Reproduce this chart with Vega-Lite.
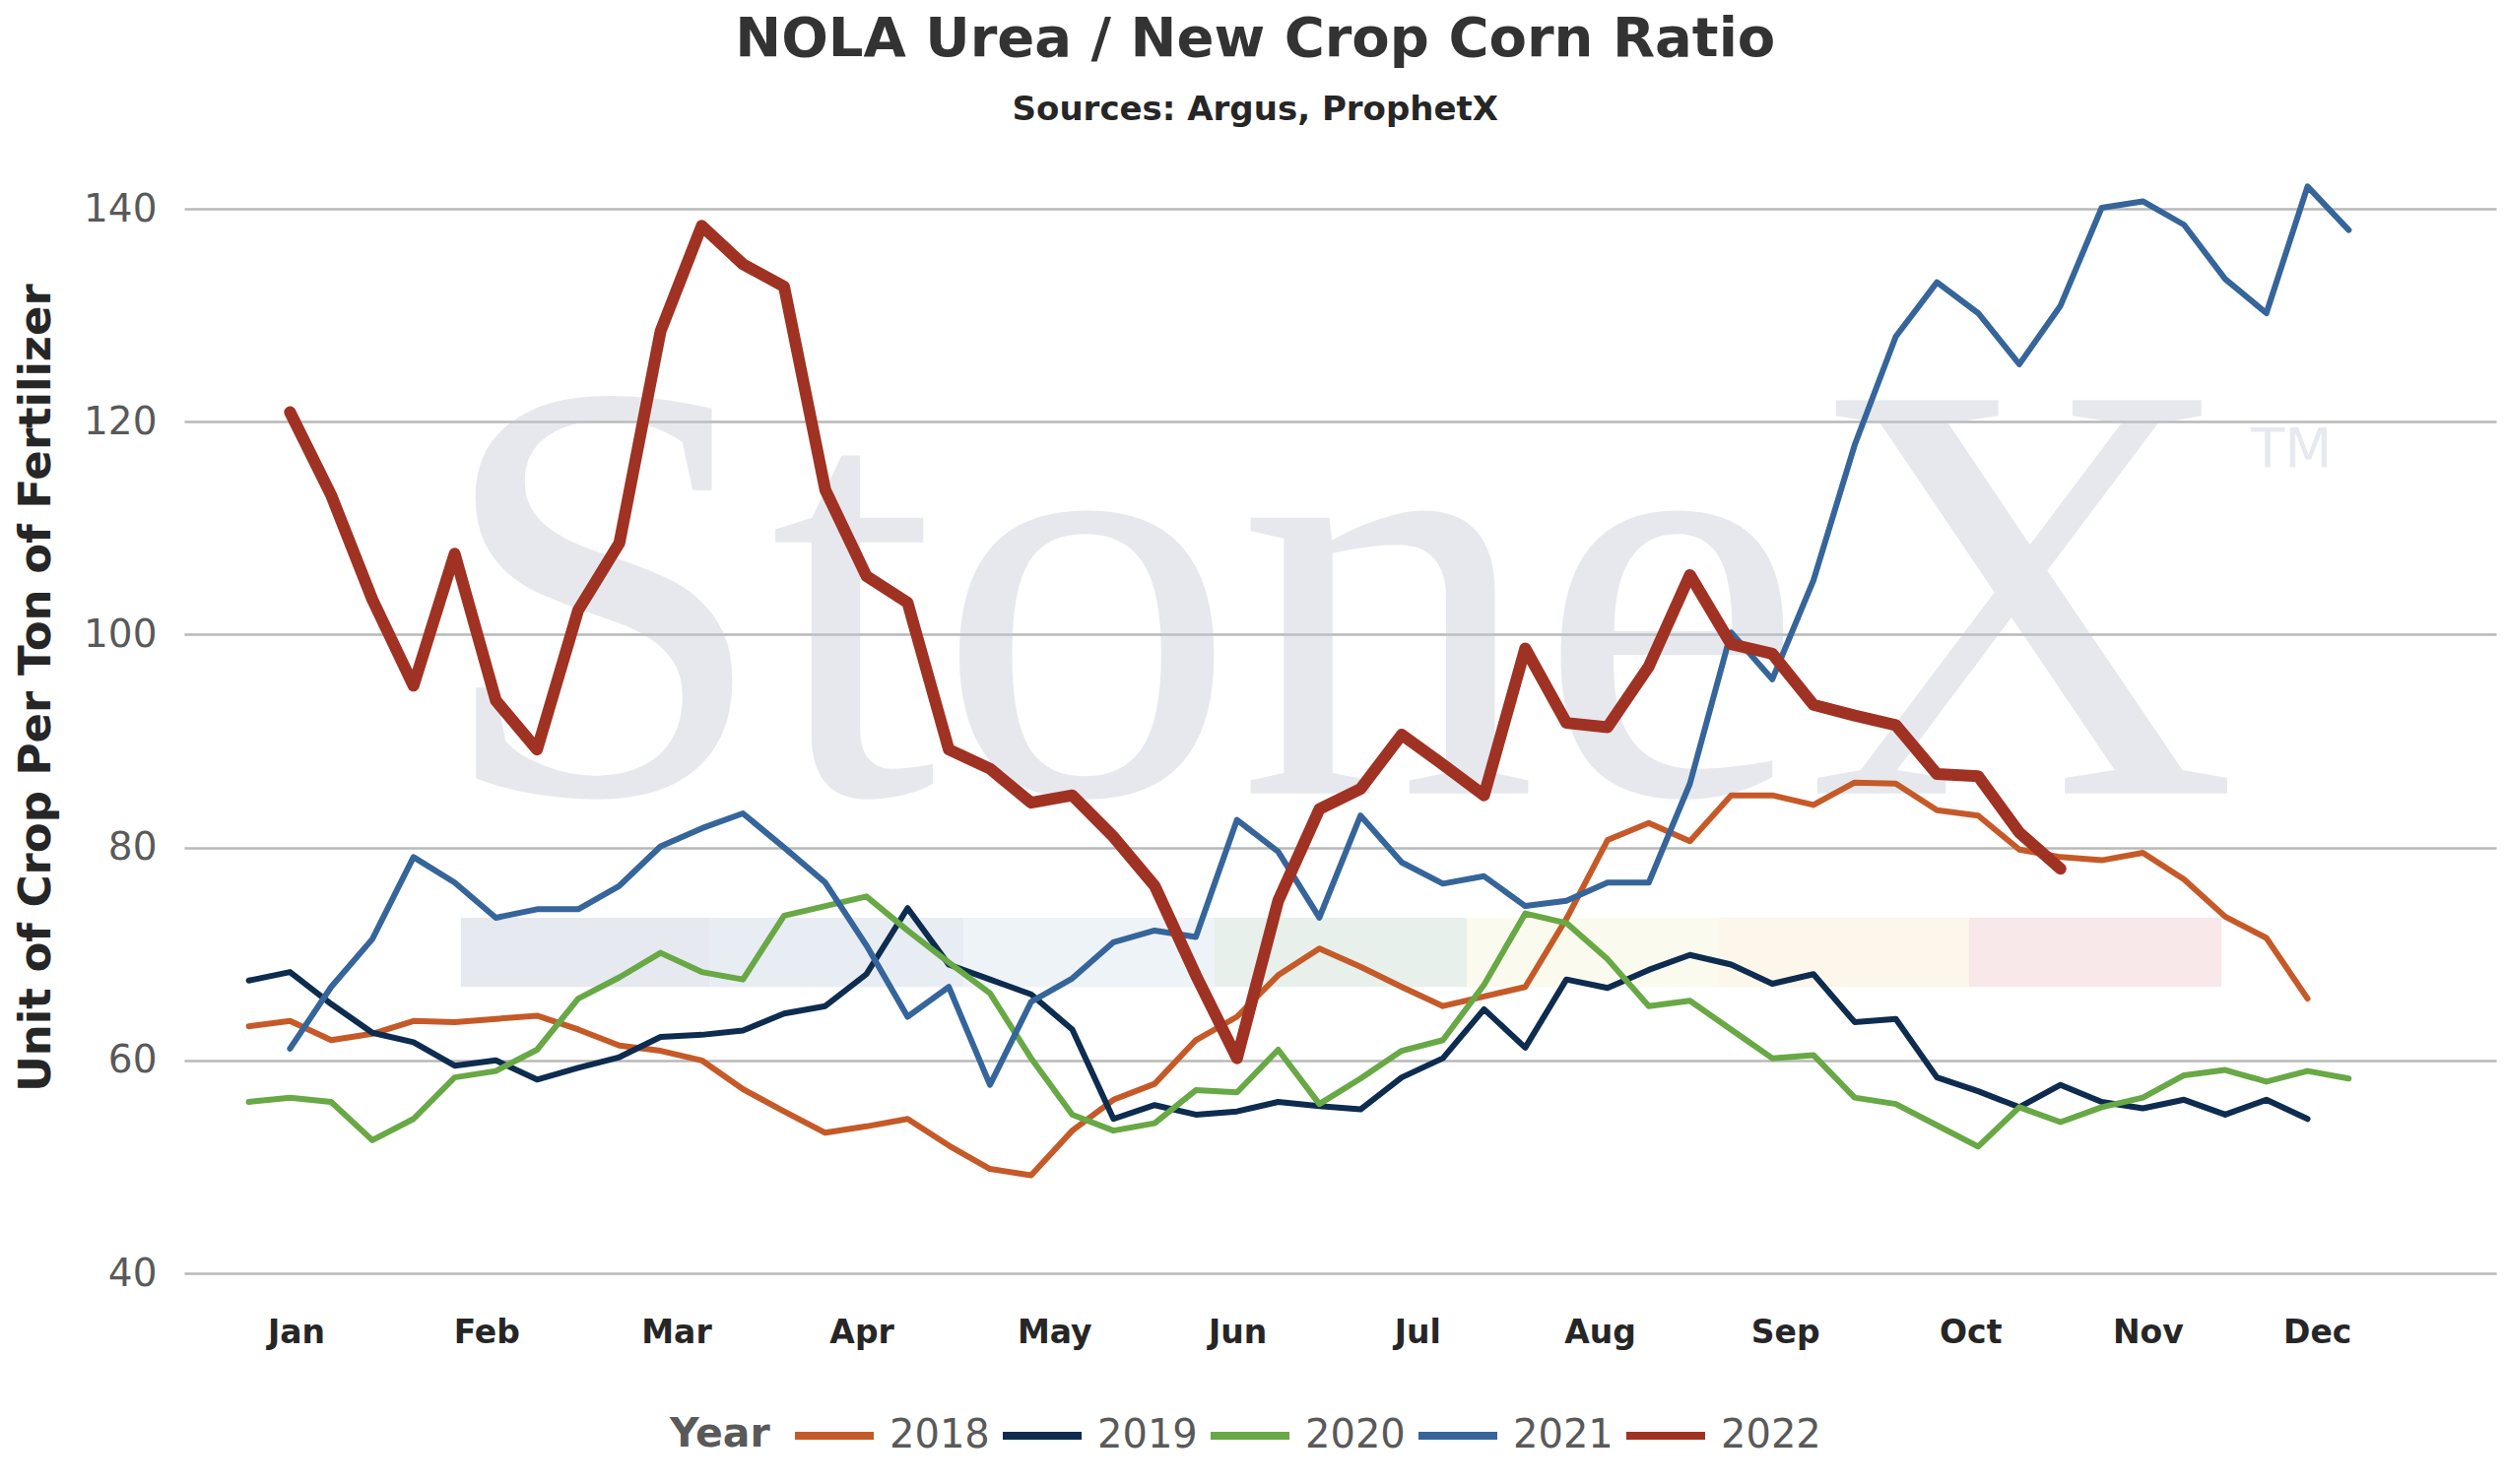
{
  "$schema": "https://vega.github.io/schema/vega-lite/v6.json",
  "description": "NOLA urea to new crop corn ratio, weekly, by year",
  "width": 2347,
  "height": 1135,
  "autosize": {"type": "none"},
  "padding": {"left": 187, "top": 158, "right": 9, "bottom": 214},
  "background": "white",
  "config": {"view": {"stroke": null}, "font": "DejaVu Sans"},
  "title": {
    "text": "NOLA Urea / New Crop Corn Ratio",
    "subtitle": "Sources: Argus, ProphetX",
    "font": "DejaVu Sans",
    "subtitleFont": "DejaVu Sans",
    "fontSize": 56,
    "subtitleFontSize": 34,
    "fontWeight": "bold",
    "subtitleFontWeight": "bold",
    "color": "#333333",
    "subtitleColor": "#262626",
    "anchor": "middle",
    "frame": "bounds",
    "offset": 28,
    "subtitlePadding": 26
  },
  "datasets": {
    "band": [
      {"seg": "a", "start": 6.15, "end": 12.22},
      {"seg": "b", "start": 12.22, "end": 18.36},
      {"seg": "c", "start": 18.36, "end": 24.45},
      {"seg": "d", "start": 24.45, "end": 30.58},
      {"seg": "e", "start": 30.58, "end": 36.70},
      {"seg": "f", "start": 36.70, "end": 42.78},
      {"seg": "g", "start": 42.78, "end": 48.91}
    ],
    "ratio": [
      {"year": "2018", "week": 1, "ratio": 63.2}, {"year": "2018", "week": 2, "ratio": 63.7},
      {"year": "2018", "week": 3, "ratio": 61.9}, {"year": "2018", "week": 4, "ratio": 62.5},
      {"year": "2018", "week": 5, "ratio": 63.7}, {"year": "2018", "week": 6, "ratio": 63.6},
      {"year": "2018", "week": 7, "ratio": 63.9}, {"year": "2018", "week": 8, "ratio": 64.2},
      {"year": "2018", "week": 9, "ratio": 62.9}, {"year": "2018", "week": 10, "ratio": 61.4},
      {"year": "2018", "week": 11, "ratio": 60.9}, {"year": "2018", "week": 12, "ratio": 60.0},
      {"year": "2018", "week": 13, "ratio": 57.3}, {"year": "2018", "week": 14, "ratio": 55.2},
      {"year": "2018", "week": 15, "ratio": 53.2}, {"year": "2018", "week": 16, "ratio": 53.8},
      {"year": "2018", "week": 17, "ratio": 54.5}, {"year": "2018", "week": 18, "ratio": 52.0},
      {"year": "2018", "week": 19, "ratio": 49.8}, {"year": "2018", "week": 20, "ratio": 49.2},
      {"year": "2018", "week": 21, "ratio": 53.4}, {"year": "2018", "week": 22, "ratio": 56.3},
      {"year": "2018", "week": 23, "ratio": 57.8}, {"year": "2018", "week": 24, "ratio": 61.9},
      {"year": "2018", "week": 25, "ratio": 64.1}, {"year": "2018", "week": 26, "ratio": 68.0},
      {"year": "2018", "week": 27, "ratio": 70.5}, {"year": "2018", "week": 28, "ratio": 68.8},
      {"year": "2018", "week": 29, "ratio": 66.9}, {"year": "2018", "week": 30, "ratio": 65.1},
      {"year": "2018", "week": 31, "ratio": 66.0}, {"year": "2018", "week": 32, "ratio": 66.9},
      {"year": "2018", "week": 33, "ratio": 73.3}, {"year": "2018", "week": 34, "ratio": 80.7},
      {"year": "2018", "week": 35, "ratio": 82.3}, {"year": "2018", "week": 36, "ratio": 80.6},
      {"year": "2018", "week": 37, "ratio": 84.9}, {"year": "2018", "week": 38, "ratio": 84.9},
      {"year": "2018", "week": 39, "ratio": 84.0}, {"year": "2018", "week": 40, "ratio": 86.1},
      {"year": "2018", "week": 41, "ratio": 86.0}, {"year": "2018", "week": 42, "ratio": 83.5},
      {"year": "2018", "week": 43, "ratio": 83.0}, {"year": "2018", "week": 44, "ratio": 79.8},
      {"year": "2018", "week": 45, "ratio": 79.1}, {"year": "2018", "week": 46, "ratio": 78.8},
      {"year": "2018", "week": 47, "ratio": 79.5}, {"year": "2018", "week": 48, "ratio": 77.0},
      {"year": "2018", "week": 49, "ratio": 73.5}, {"year": "2018", "week": 50, "ratio": 71.5},
      {"year": "2018", "week": 51, "ratio": 65.8},

      {"year": "2019", "week": 1, "ratio": 67.5}, {"year": "2019", "week": 2, "ratio": 68.3},
      {"year": "2019", "week": 3, "ratio": 65.3}, {"year": "2019", "week": 4, "ratio": 62.6},
      {"year": "2019", "week": 5, "ratio": 61.7}, {"year": "2019", "week": 6, "ratio": 59.5},
      {"year": "2019", "week": 7, "ratio": 60.0}, {"year": "2019", "week": 8, "ratio": 58.2},
      {"year": "2019", "week": 9, "ratio": 59.3}, {"year": "2019", "week": 10, "ratio": 60.3},
      {"year": "2019", "week": 11, "ratio": 62.2}, {"year": "2019", "week": 12, "ratio": 62.4},
      {"year": "2019", "week": 13, "ratio": 62.8}, {"year": "2019", "week": 14, "ratio": 64.4},
      {"year": "2019", "week": 15, "ratio": 65.1}, {"year": "2019", "week": 16, "ratio": 68.1},
      {"year": "2019", "week": 17, "ratio": 74.3}, {"year": "2019", "week": 18, "ratio": 69.0},
      {"year": "2019", "week": 19, "ratio": 67.6}, {"year": "2019", "week": 20, "ratio": 66.2},
      {"year": "2019", "week": 21, "ratio": 62.9}, {"year": "2019", "week": 22, "ratio": 54.5},
      {"year": "2019", "week": 23, "ratio": 55.8}, {"year": "2019", "week": 24, "ratio": 54.9},
      {"year": "2019", "week": 25, "ratio": 55.2}, {"year": "2019", "week": 26, "ratio": 56.1},
      {"year": "2019", "week": 27, "ratio": 55.7}, {"year": "2019", "week": 28, "ratio": 55.4},
      {"year": "2019", "week": 29, "ratio": 58.4}, {"year": "2019", "week": 30, "ratio": 60.2},
      {"year": "2019", "week": 31, "ratio": 64.8}, {"year": "2019", "week": 32, "ratio": 61.2},
      {"year": "2019", "week": 33, "ratio": 67.6}, {"year": "2019", "week": 34, "ratio": 66.8},
      {"year": "2019", "week": 35, "ratio": 68.5}, {"year": "2019", "week": 36, "ratio": 69.9},
      {"year": "2019", "week": 37, "ratio": 69.0}, {"year": "2019", "week": 38, "ratio": 67.2},
      {"year": "2019", "week": 39, "ratio": 68.1}, {"year": "2019", "week": 40, "ratio": 63.6},
      {"year": "2019", "week": 41, "ratio": 63.9}, {"year": "2019", "week": 42, "ratio": 58.4},
      {"year": "2019", "week": 43, "ratio": 57.1}, {"year": "2019", "week": 44, "ratio": 55.6},
      {"year": "2019", "week": 45, "ratio": 57.7}, {"year": "2019", "week": 46, "ratio": 56.1},
      {"year": "2019", "week": 47, "ratio": 55.5}, {"year": "2019", "week": 48, "ratio": 56.3},
      {"year": "2019", "week": 49, "ratio": 54.9}, {"year": "2019", "week": 50, "ratio": 56.3},
      {"year": "2019", "week": 51, "ratio": 54.5},

      {"year": "2020", "week": 1, "ratio": 56.1}, {"year": "2020", "week": 2, "ratio": 56.5},
      {"year": "2020", "week": 3, "ratio": 56.1}, {"year": "2020", "week": 4, "ratio": 52.5},
      {"year": "2020", "week": 5, "ratio": 54.5}, {"year": "2020", "week": 6, "ratio": 58.4},
      {"year": "2020", "week": 7, "ratio": 59.0}, {"year": "2020", "week": 8, "ratio": 61.0},
      {"year": "2020", "week": 9, "ratio": 65.8}, {"year": "2020", "week": 10, "ratio": 67.8},
      {"year": "2020", "week": 11, "ratio": 70.1}, {"year": "2020", "week": 12, "ratio": 68.3},
      {"year": "2020", "week": 13, "ratio": 67.6}, {"year": "2020", "week": 14, "ratio": 73.6},
      {"year": "2020", "week": 15, "ratio": 74.5}, {"year": "2020", "week": 16, "ratio": 75.4},
      {"year": "2020", "week": 17, "ratio": 72.2}, {"year": "2020", "week": 18, "ratio": 69.2},
      {"year": "2020", "week": 19, "ratio": 66.3}, {"year": "2020", "week": 20, "ratio": 60.2},
      {"year": "2020", "week": 21, "ratio": 54.9}, {"year": "2020", "week": 22, "ratio": 53.4},
      {"year": "2020", "week": 23, "ratio": 54.1}, {"year": "2020", "week": 24, "ratio": 57.2},
      {"year": "2020", "week": 25, "ratio": 57.0}, {"year": "2020", "week": 26, "ratio": 61.0},
      {"year": "2020", "week": 27, "ratio": 55.9}, {"year": "2020", "week": 28, "ratio": 58.3},
      {"year": "2020", "week": 29, "ratio": 60.9}, {"year": "2020", "week": 30, "ratio": 61.9},
      {"year": "2020", "week": 31, "ratio": 67.1}, {"year": "2020", "week": 32, "ratio": 73.8},
      {"year": "2020", "week": 33, "ratio": 72.9}, {"year": "2020", "week": 34, "ratio": 69.5},
      {"year": "2020", "week": 35, "ratio": 65.1}, {"year": "2020", "week": 36, "ratio": 65.6},
      {"year": "2020", "week": 37, "ratio": 62.9}, {"year": "2020", "week": 38, "ratio": 60.2},
      {"year": "2020", "week": 39, "ratio": 60.5}, {"year": "2020", "week": 40, "ratio": 56.5},
      {"year": "2020", "week": 41, "ratio": 55.9}, {"year": "2020", "week": 42, "ratio": 53.9},
      {"year": "2020", "week": 43, "ratio": 51.9}, {"year": "2020", "week": 44, "ratio": 55.6},
      {"year": "2020", "week": 45, "ratio": 54.2}, {"year": "2020", "week": 46, "ratio": 55.6},
      {"year": "2020", "week": 47, "ratio": 56.5}, {"year": "2020", "week": 48, "ratio": 58.6},
      {"year": "2020", "week": 49, "ratio": 59.1}, {"year": "2020", "week": 50, "ratio": 58.0},
      {"year": "2020", "week": 51, "ratio": 59.0}, {"year": "2020", "week": 52, "ratio": 58.3},

      {"year": "2021", "week": 2, "ratio": 61.1}, {"year": "2021", "week": 3, "ratio": 66.9},
      {"year": "2021", "week": 4, "ratio": 71.4}, {"year": "2021", "week": 5, "ratio": 79.1},
      {"year": "2021", "week": 6, "ratio": 76.7}, {"year": "2021", "week": 7, "ratio": 73.4},
      {"year": "2021", "week": 8, "ratio": 74.2}, {"year": "2021", "week": 9, "ratio": 74.2},
      {"year": "2021", "week": 10, "ratio": 76.4}, {"year": "2021", "week": 11, "ratio": 80.1},
      {"year": "2021", "week": 12, "ratio": 81.8}, {"year": "2021", "week": 13, "ratio": 83.2},
      {"year": "2021", "week": 14, "ratio": 80.0}, {"year": "2021", "week": 15, "ratio": 76.7},
      {"year": "2021", "week": 16, "ratio": 70.8}, {"year": "2021", "week": 17, "ratio": 64.1},
      {"year": "2021", "week": 18, "ratio": 66.9}, {"year": "2021", "week": 19, "ratio": 57.7},
      {"year": "2021", "week": 20, "ratio": 65.5}, {"year": "2021", "week": 21, "ratio": 67.7},
      {"year": "2021", "week": 22, "ratio": 71.1}, {"year": "2021", "week": 23, "ratio": 72.2},
      {"year": "2021", "week": 24, "ratio": 71.6}, {"year": "2021", "week": 25, "ratio": 82.6},
      {"year": "2021", "week": 26, "ratio": 79.6}, {"year": "2021", "week": 27, "ratio": 73.4},
      {"year": "2021", "week": 28, "ratio": 83.0}, {"year": "2021", "week": 29, "ratio": 78.6},
      {"year": "2021", "week": 30, "ratio": 76.6}, {"year": "2021", "week": 31, "ratio": 77.3},
      {"year": "2021", "week": 32, "ratio": 74.5}, {"year": "2021", "week": 33, "ratio": 75.0},
      {"year": "2021", "week": 34, "ratio": 76.7}, {"year": "2021", "week": 35, "ratio": 76.7},
      {"year": "2021", "week": 36, "ratio": 86.0}, {"year": "2021", "week": 37, "ratio": 100.2},
      {"year": "2021", "week": 38, "ratio": 95.8}, {"year": "2021", "week": 39, "ratio": 105.1},
      {"year": "2021", "week": 40, "ratio": 117.8}, {"year": "2021", "week": 41, "ratio": 128.0},
      {"year": "2021", "week": 42, "ratio": 133.1}, {"year": "2021", "week": 43, "ratio": 130.2},
      {"year": "2021", "week": 44, "ratio": 125.4}, {"year": "2021", "week": 45, "ratio": 130.9},
      {"year": "2021", "week": 46, "ratio": 140.1}, {"year": "2021", "week": 47, "ratio": 140.7},
      {"year": "2021", "week": 48, "ratio": 138.5}, {"year": "2021", "week": 49, "ratio": 133.4},
      {"year": "2021", "week": 50, "ratio": 130.2}, {"year": "2021", "week": 51, "ratio": 142.1},
      {"year": "2021", "week": 52, "ratio": 138.0},

      {"year": "2022", "week": 2, "ratio": 120.9}, {"year": "2022", "week": 3, "ratio": 113.1},
      {"year": "2022", "week": 4, "ratio": 103.3}, {"year": "2022", "week": 5, "ratio": 95.2},
      {"year": "2022", "week": 6, "ratio": 107.6}, {"year": "2022", "week": 7, "ratio": 93.8},
      {"year": "2022", "week": 8, "ratio": 89.2}, {"year": "2022", "week": 9, "ratio": 102.3},
      {"year": "2022", "week": 10, "ratio": 108.6}, {"year": "2022", "week": 11, "ratio": 128.5},
      {"year": "2022", "week": 12, "ratio": 138.4}, {"year": "2022", "week": 13, "ratio": 134.8},
      {"year": "2022", "week": 14, "ratio": 132.7}, {"year": "2022", "week": 15, "ratio": 113.6},
      {"year": "2022", "week": 16, "ratio": 105.5}, {"year": "2022", "week": 17, "ratio": 103.0},
      {"year": "2022", "week": 18, "ratio": 89.2}, {"year": "2022", "week": 19, "ratio": 87.4},
      {"year": "2022", "week": 20, "ratio": 84.2}, {"year": "2022", "week": 21, "ratio": 84.9},
      {"year": "2022", "week": 22, "ratio": 81.0}, {"year": "2022", "week": 23, "ratio": 76.4},
      {"year": "2022", "week": 24, "ratio": 68.0}, {"year": "2022", "week": 25, "ratio": 60.2},
      {"year": "2022", "week": 26, "ratio": 75.0}, {"year": "2022", "week": 27, "ratio": 83.6},
      {"year": "2022", "week": 28, "ratio": 85.5}, {"year": "2022", "week": 29, "ratio": 90.6},
      {"year": "2022", "week": 30, "ratio": 87.8}, {"year": "2022", "week": 31, "ratio": 84.9},
      {"year": "2022", "week": 32, "ratio": 98.7}, {"year": "2022", "week": 33, "ratio": 91.7},
      {"year": "2022", "week": 34, "ratio": 91.3}, {"year": "2022", "week": 35, "ratio": 97.0},
      {"year": "2022", "week": 36, "ratio": 105.6}, {"year": "2022", "week": 37, "ratio": 99.1},
      {"year": "2022", "week": 38, "ratio": 98.2}, {"year": "2022", "week": 39, "ratio": 93.4},
      {"year": "2022", "week": 40, "ratio": 92.4}, {"year": "2022", "week": 41, "ratio": 91.5},
      {"year": "2022", "week": 42, "ratio": 86.9}, {"year": "2022", "week": 43, "ratio": 86.7},
      {"year": "2022", "week": 44, "ratio": 81.4}, {"year": "2022", "week": 45, "ratio": 78.0}
    ]
  },
  "layer": [
    {
      "data": {"name": "band"},
      "mark": {"type": "rect"},
      "encoding": {
        "x": {"field": "start", "type": "quantitative", "scale": {"domain": [-0.569, 55.58], "nice": false, "zero": false}},
        "x2": {"field": "end"},
        "y": {"datum": 66.9, "type": "quantitative", "scale": {"domain": [40, 145], "nice": false, "zero": false}},
        "y2": {"datum": 73.4},
        "fill": {
          "field": "seg", "type": "nominal", "legend": null,
          "scale": {"domain": ["a", "b", "c", "d", "e", "f", "g"], "range": ["#e6e9ef", "#e8ecf3", "#eef3f8", "#e7f0ea", "#fafbee", "#fdf6ea", "#f8e8e9"]}
        }
      }
    },
    {
      "data": {"values": [{}]},
      "mark": {"type": "text", "text": "StoneX", "font": "Liberation Serif", "fontSize": 610, "color": "#c1c8d6", "opacity": 0.4, "align": "center", "baseline": "alphabetic"},
      "encoding": {
        "x": {"datum": 27.42, "type": "quantitative"},
        "y": {"datum": 85.07, "type": "quantitative"}
      }
    },
    {
      "data": {"values": [{}]},
      "mark": {"type": "text", "text": "TM", "font": "DejaVu Sans", "fontSize": 56, "color": "#e6e9ef", "align": "center", "baseline": "alphabetic"},
      "encoding": {
        "x": {"datum": 50.61, "type": "quantitative"},
        "y": {"datum": 115.8, "type": "quantitative"}
      }
    },
    {
      "data": {"name": "ratio"},
      "mark": {"type": "line", "strokeCap": "round", "strokeJoin": "round"},
      "encoding": {
        "x": {
          "field": "week",
          "type": "quantitative",
          "scale": {"domain": [-0.569, 55.58], "nice": false, "zero": false},
          "axis": {
            "title": null,
            "grid": false,
            "domain": false,
            "ticks": false,
            "tickSize": 0,
            "values": [2.148, 6.77, 11.38, 15.88, 20.56, 25.01, 29.38, 33.81, 38.31, 42.81, 47.12, 51.23],
            "labelExpr": "datum.value < 4 ? 'Jan' : datum.value < 9 ? 'Feb' : datum.value < 13 ? 'Mar' : datum.value < 18 ? 'Apr' : datum.value < 23 ? 'May' : datum.value < 27 ? 'Jun' : datum.value < 31 ? 'Jul' : datum.value < 36 ? 'Aug' : datum.value < 40 ? 'Sep' : datum.value < 45 ? 'Oct' : datum.value < 49 ? 'Nov' : 'Dec'",
            "labelFont": "DejaVu Sans",
            "labelFontSize": 33,
            "labelFontWeight": "bold",
            "labelColor": "#262626",
            "labelPadding": 44,
            "labelOverlap": false,
            "labelFlush": false,
            "labelBound": false
          }
        },
        "y": {
          "field": "ratio",
          "type": "quantitative",
          "scale": {"domain": [40, 145], "nice": false, "zero": false},
          "axis": {
            "title": "Unit of Crop Per Ton of Fertilizer",
            "titleFont": "DejaVu Sans",
            "titleFontSize": 45,
            "titleFontWeight": "bold",
            "titleColor": "#262626",
            "titlePadding": 25,
            "titleY": 540,
            "values": [40, 60, 80, 100, 120, 140],
            "labelFont": "DejaVu Sans",
            "labelFontSize": 39,
            "labelColor": "#595959",
            "labelPadding": 28,
            "domain": false,
            "ticks": false,
            "tickSize": 0,
            "grid": true,
            "gridColor": "#b8b8b8",
            "gridWidth": 2.5
          }
        },
        "color": {
          "field": "year",
          "type": "nominal",
          "scale": {
            "domain": ["2018", "2019", "2020", "2021", "2022"],
            "range": ["#c55a28", "#0d2c4f", "#68a845", "#35659a", "#a03223"]
          },
          "legend": {
            "title": "Year",
            "orient": "none",
            "legendX": 493,
            "legendY": 1256,
            "direction": "horizontal",
            "titleOrient": "left",
            "titleAnchor": "end",
            "titleBaseline": "bottom",
            "titleFont": "DejaVu Sans",
            "titleFontSize": 41,
            "titleFontWeight": "bold",
            "titleColor": "#595959",
            "titlePadding": 21,
            "labelFont": "DejaVu Sans",
            "labelFontSize": 40,
            "labelColor": "#595959",
            "labelOffset": 12,
            "columnPadding": -3,
            "symbolType": "stroke",
            "symbolSize": 6400,
            "symbolStrokeWidth": 8
          }
        },
        "strokeWidth": {
          "condition": {"test": "datum.year === '2022'", "value": 12},
          "value": 6
        }
      }
    }
  ]
}
